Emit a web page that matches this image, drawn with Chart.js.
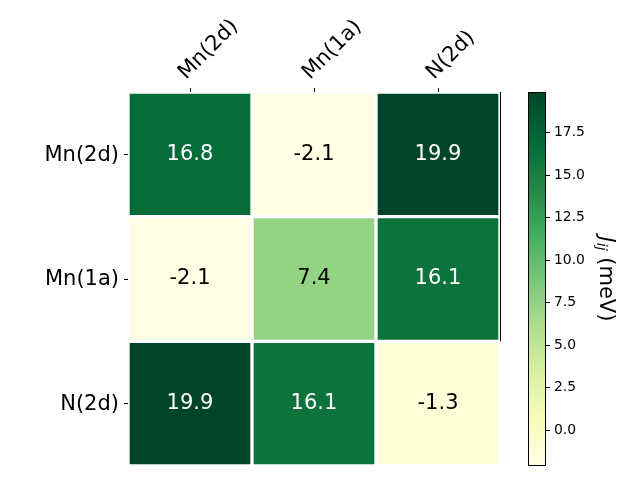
<!DOCTYPE html>
<html><head><meta charset="utf-8">
<script src="https://cdn.jsdelivr.net/npm/chart.js@4"></script>
<style>
html,body{margin:0;padding:0;background:#fff}
#wrap{position:relative;width:640px;height:480px}
canvas{position:absolute;left:0;top:0}
</style>
</head><body>
<div id="wrap"><canvas id="main" width="640" height="480"></canvas><canvas id="cb" width="640" height="480"></canvas></div>
<script>
const labels = ['Mn(2d)', 'Mn(1a)', 'N(2d)'];
const row0 = [16.8, -2.1, 19.9];
const row1 = [-2.1, 7.4, 16.1];
const row2 = [19.9, 16.1, -1.3];
const rows = [row0, row1, row2];
const cbTicks = [0, 2.5, 5, 7.5, 10, 12.5, 15, 17.5];
const vmin = -2.1, vmax = 19.9;
const ylgn = ['#ffffe5','#f7fcb9','#d9f0a3','#addd8e','#78c679','#41ab5d','#238443','#006837','#004529'];

function hex(h){return [1,3,5].map(i=>parseInt(h.substr(i,2),16));}
function cmap(v){
  let t = (v - vmin) / (vmax - vmin); t = Math.max(0, Math.min(1, t));
  const p = t * (ylgn.length - 1); const i = Math.min(Math.floor(p), ylgn.length - 2); const f = p - i;
  const a = hex(ylgn[i]), b = hex(ylgn[i+1]);
  const c = a.map((x,k)=>Math.round(x + (b[k]-x)*f));
  return 'rgb(' + c.join(',') + ')';
}
const FONT = 'DejaVu Sans';
const BIG = 21;

const cellText = {
  id: 'cellText',
  afterDatasetsDraw(chart){
    const ctx = chart.ctx;
    ctx.save();
    ctx.font = BIG + 'px "' + FONT + '"';
    ctx.textAlign = 'center'; ctx.textBaseline = 'middle';
    chart.data.datasets.forEach((ds, di) => {
      const meta = chart.getDatasetMeta(di);
      meta.data.forEach((el, j) => {
        const v = ds.vals[j];
        const c = el.getCenterPoint();
        ctx.fillStyle = v > 10 ? '#ffffff' : '#000000';
        ctx.fillText(v.toFixed(1), c.x, c.y);
      });
    });
    const ys = chart.scales.y;
    const x = Math.round(chart.chartArea.right) + 0.5;
    ctx.strokeStyle = '#000'; ctx.lineWidth = 1;
    ctx.beginPath(); ctx.moveTo(x, ys.getPixelForValue(0)); ctx.lineTo(x, ys.getPixelForValue(2)); ctx.stroke();
    ctx.restore();
  }
};

new Chart(document.getElementById('main'), {
  type: 'bar',
  data: {
    labels: labels,
    datasets: rows.map((r, i) => ({
      data: r.map(() => [i, i + 1]),
      vals: r,
      backgroundColor: r.map(cmap),
      borderColor: '#ffffff',
      borderWidth: 2,
      borderSkipped: false,
      grouped: false,
      categoryPercentage: 1,
      barPercentage: 1
    }))
  },
  options: {
    responsive: false, devicePixelRatio: 1, animation: false,
    layout: { padding: { left: 0, top: 0, right: 140, bottom: 14 } },
    plugins: { legend: { display: false }, tooltip: { enabled: false } },
    scales: {
      x: {
        type: 'category', position: 'top',
        grid: { offset: false, drawOnChartArea: false, drawTicks: true, tickLength: 4, tickColor: '#000', tickWidth: 1 },
        border: { display: false },
        ticks: { color: '#000', font: { family: FONT, size: BIG }, minRotation: 45, maxRotation: 45, padding: 3, labelOffset: 10 },
        afterFit: s => { s.height = 92; s.paddingLeft = 0; s.paddingRight = 0; }
      },
      y: {
        type: 'linear', min: 0, max: 3, reverse: true,
        afterBuildTicks: s => { s.ticks = [0.5, 1.5, 2.5].map(v => ({ value: v })); },
        grid: { drawOnChartArea: false, drawTicks: true, tickLength: 4, tickColor: '#000', tickWidth: 1 },
        border: { display: false },
        ticks: { color: '#000', font: { family: FONT, size: BIG }, padding: 5, labelOffset: 1, callback: v => labels[Math.floor(v)] },
        afterFit: s => { s.width = 128; s.paddingTop = 0; s.paddingBottom = 0; }
      }
    }
  },
  plugins: [cellText]
});

const cbPlugin = {
  id: 'cbPlugin',
  beforeDatasetsDraw(chart){
    const ctx = chart.ctx, ca = chart.chartArea, ys = chart.scales.y;
    const g = ctx.createLinearGradient(0, ys.getPixelForValue(vmin), 0, ys.getPixelForValue(vmax));
    ylgn.forEach((c, i) => g.addColorStop(i / (ylgn.length - 1), c));
    ctx.save(); ctx.fillStyle = g;
    ctx.fillRect(ca.left, ca.top, ca.right - ca.left, ca.bottom - ca.top);
    ctx.restore();
  },
  afterDraw(chart){
    const ctx = chart.ctx, ca = chart.chartArea;
    ctx.save();
    ctx.strokeStyle = '#000'; ctx.lineWidth = 1;
    ctx.strokeRect(Math.round(ca.left) + 0.5, Math.round(ca.top) + 0.5, Math.round(ca.right - ca.left) - 1, Math.round(ca.bottom - ca.top) - 1);
    const x = ca.right + 59, y = (ca.top + ca.bottom) / 2;
    const big = BIG + 'px "' + FONT + '"', bigI = 'italic ' + BIG + 'px "' + FONT + '"', small = 'italic 14px "' + FONT + '"';
    const parts = [['J', bigI, 0], ['ij', small, 4], [' (meV)', big, 0]];
    let total = 0;
    parts.forEach(p => { ctx.font = p[1]; total += ctx.measureText(p[0]).width; });
    ctx.translate(x, y); ctx.rotate(Math.PI / 2);
    ctx.fillStyle = '#000'; ctx.textBaseline = 'middle'; ctx.textAlign = 'left';
    let cx = -total / 2;
    parts.forEach(p => { ctx.font = p[1]; ctx.fillText(p[0], cx, p[2]); cx += ctx.measureText(p[0]).width; });
    ctx.restore();
  }
};

new Chart(document.getElementById('cb'), {
  type: 'bar',
  data: { labels: [''], datasets: [{ data: [] }] },
  options: {
    responsive: false, devicePixelRatio: 1, animation: false,
    layout: { padding: { left: 528, top: 92, bottom: 14, right: 0 } },
    plugins: { legend: { display: false }, tooltip: { enabled: false } },
    scales: {
      x: { display: false },
      y: {
        position: 'right', min: vmin, max: vmax,
        afterBuildTicks: s => { s.ticks = cbTicks.map(v => ({ value: v })); },
        grid: { drawOnChartArea: false, drawTicks: true, tickLength: 4, tickColor: '#000', tickWidth: 1 },
        border: { display: false },
        ticks: { color: '#000', font: { family: FONT, size: 13.9 }, padding: 4, callback: v => Number(v).toFixed(1) },
        afterFit: s => { s.width = 94; s.paddingTop = 0; s.paddingBottom = 0; }
      }
    }
  },
  plugins: [cbPlugin]
});
</script>
</body></html>
